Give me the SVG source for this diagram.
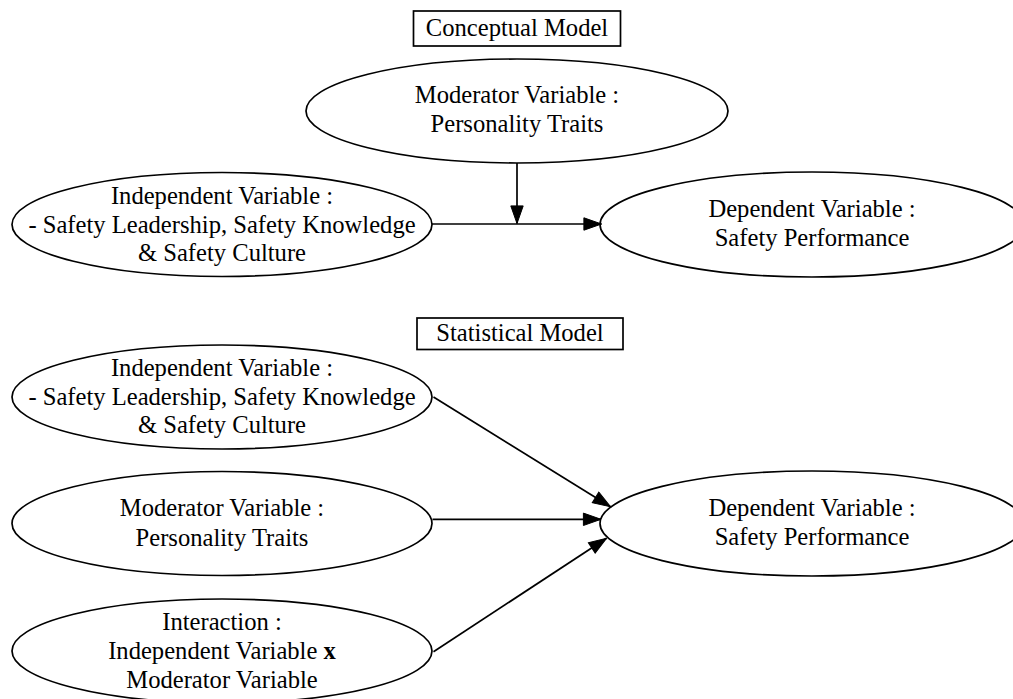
<svg xmlns="http://www.w3.org/2000/svg" width="1013" height="699" viewBox="0 0 1013 699">
<style>
.n { fill: #fff; stroke: #000; stroke-width: 1.7; }
.t { font-family: 'Liberation Serif', Tinos, 'Times New Roman', Times, 'DejaVu Serif', 'Noto Serif', serif; font-size: 24.6px; fill: #000; text-anchor: middle; }
.e { stroke: #000; stroke-width: 1.7; fill: none; marker-end: url(#arr); }
</style>
<defs>
<marker id="arr" markerUnits="userSpaceOnUse" markerWidth="20" markerHeight="14" viewBox="0 -7 18 14" refX="17.6" refY="0" orient="auto">
<path d="M0,-6.2 L17.6,0 L0,6.2 Z" fill="#000" stroke="#000" stroke-width="1"/>
</marker>
</defs>
<rect width="1013" height="699" fill="#fff"/>

<g id="conceptual-title">
<rect class="n" x="413.5" y="11" width="207" height="35"/>
<text class="t" x="517" y="35.5">Conceptual Model</text>
</g>
<g id="c-moderator">
<ellipse class="n" cx="517" cy="111" rx="211" ry="52"/>
<text class="t" x="517" y="103">Moderator Variable :</text>
<text class="t" x="517" y="132">Personality Traits</text>
</g>
<g id="c-independent">
<ellipse class="n" cx="222" cy="224.5" rx="210" ry="52"/>
<text class="t" x="222" y="203.5">Independent Variable :</text>
<text class="t" x="222" y="232.5">- Safety Leadership, Safety Knowledge</text>
<text class="t" x="222" y="261">&amp; Safety Culture</text>
</g>
<g id="c-dependent">
<ellipse class="n" cx="812" cy="224.5" rx="212" ry="52.5"/>
<text class="t" x="812" y="216.5">Dependent Variable :</text>
<text class="t" x="812" y="246">Safety Performance</text>
</g>

<g id="statistical-title">
<rect class="n" x="417" y="318" width="206" height="31.5"/>
<text class="t" x="520" y="341">Statistical Model</text>
</g>
<g id="s-independent">
<ellipse class="n" cx="222" cy="397" rx="210" ry="52"/>
<text class="t" x="222" y="375.5">Independent Variable :</text>
<text class="t" x="222" y="404.5">- Safety Leadership, Safety Knowledge</text>
<text class="t" x="222" y="433">&amp; Safety Culture</text>
</g>
<g id="s-moderator">
<ellipse class="n" cx="222" cy="523.5" rx="210" ry="52"/>
<text class="t" x="222" y="516">Moderator Variable :</text>
<text class="t" x="222" y="545.5">Personality Traits</text>
</g>
<g id="s-interaction">
<ellipse class="n" cx="222" cy="651" rx="210" ry="52"/>
<text class="t" x="222" y="630">Interaction :</text>
<text class="t" x="222" y="659">Independent Variable <tspan font-weight="bold">x</tspan></text>
<text class="t" x="222" y="688">Moderator Variable</text>
</g>
<g id="s-dependent">
<ellipse class="n" cx="812" cy="523.5" rx="212" ry="52.5"/>
<text class="t" x="812" y="515.5">Dependent Variable :</text>
<text class="t" x="812" y="545">Safety Performance</text>
</g>

<g id="connectors">
<line class="e" x1="432" y1="224" x2="601.5" y2="224"/>
<line class="e" x1="517" y1="163" x2="517" y2="223.5"/>
<line class="e" x1="433.5" y1="397" x2="610.5" y2="506.7"/>
<line class="e" x1="432.5" y1="519.3" x2="601" y2="519.3"/>
<line class="e" x1="433.5" y1="651.7" x2="606.5" y2="538.3"/>
</g>
</svg>
